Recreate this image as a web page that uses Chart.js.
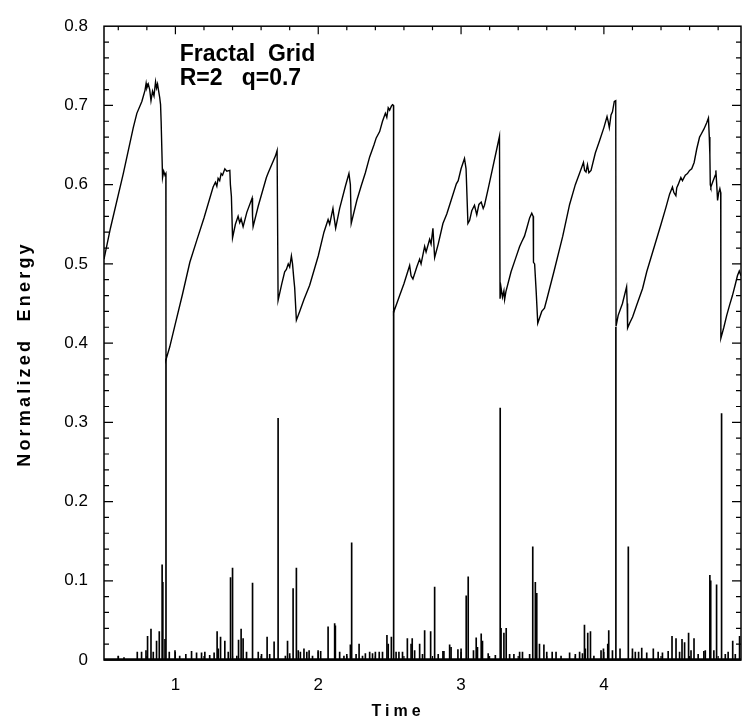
<!DOCTYPE html>
<html lang="en">
<head>
  <meta charset="UTF-8">
  <title>Fractal Grid energy</title>
  <script src="https://cdn.jsdelivr.net/npm/chart.js@4.4.1/dist/chart.umd.min.js"></script>
  <style>
    html, body { margin: 0; padding: 0; background: #fff; }
    #wrap { width: 742px; height: 720px; }
  </style>
</head>
<body>
<div id="wrap"><canvas id="energyChart" width="742" height="720"></canvas></div>
<script>
  // energy curve
  const energyT = [
    0.500, 0.545, 0.635, 0.705, 0.730, 0.765, 0.787, 0.795, 0.800, 0.810, 0.820, 0.829, 0.840, 0.850, 0.861, 0.868, 0.875, 0.880, 0.890, 0.896, 0.900, 0.910, 0.918, 0.927, 0.933,
    0.934, 0.960, 1.000, 1.050, 1.101, 1.150, 1.200, 1.264, 1.280, 1.290, 1.299, 1.310, 1.320, 1.330, 1.346, 1.360, 1.381, 1.385, 1.392, 1.400, 1.420, 1.439, 1.450, 1.460, 1.474, 1.500, 1.537, 1.540, 1.544, 1.580, 1.637, 1.650, 1.700, 1.712,
    1.719, 1.745, 1.765, 1.777, 1.790, 1.800, 1.812, 1.820, 1.829, 1.835, 1.847, 1.870, 1.900, 1.940, 2.000, 2.040, 2.069, 2.080, 2.103, 2.110, 2.122, 2.150, 2.190, 2.215, 2.225, 2.231, 2.270, 2.300, 2.330, 2.360, 2.390, 2.406, 2.430, 2.450, 2.470, 2.480, 2.490, 2.500, 2.512, 2.520, 2.527,
    2.528, 2.550, 2.570, 2.600, 2.640, 2.650, 2.663, 2.690, 2.710, 2.720, 2.745, 2.755, 2.780, 2.790, 2.803, 2.815, 2.840, 2.873, 2.900, 2.930, 2.967, 2.980, 3.000, 3.024, 3.035, 3.048, 3.060, 3.075, 3.094, 3.110, 3.125, 3.141, 3.155, 3.164, 3.190, 3.220, 3.250, 3.269,
    3.273, 3.280, 3.290, 3.300, 3.305, 3.314, 3.350, 3.380, 3.410, 3.425, 3.444, 3.460, 3.480, 3.495, 3.505, 3.507, 3.515, 3.526, 3.537, 3.550, 3.565, 3.584, 3.600, 3.650, 3.712, 3.760, 3.800, 3.829, 3.845, 3.857, 3.865, 3.875, 3.885, 3.895, 3.910, 3.940, 3.969, 4.000, 4.022, 4.030, 4.038, 4.050, 4.060, 4.073, 4.083,
    4.085, 4.100, 4.130, 4.159, 4.163, 4.166, 4.180, 4.201, 4.230, 4.271, 4.300, 4.350, 4.400, 4.434, 4.460, 4.480, 4.490, 4.504, 4.510, 4.520, 4.539, 4.550, 4.570, 4.585, 4.600, 4.615, 4.632, 4.650, 4.670, 4.679, 4.700, 4.720, 4.732, 4.738, 4.742, 4.745, 4.749, 4.765, 4.780, 4.784, 4.790, 4.796, 4.804, 4.812, 4.818,
    4.819, 4.840, 4.860, 4.880, 4.900, 4.920, 4.935, 4.948, 4.960
  ];
  const energyE = [
    0.506, 0.545, 0.614, 0.672, 0.690, 0.705, 0.719, 0.728, 0.722, 0.727, 0.720, 0.706, 0.718, 0.712, 0.730, 0.722, 0.727, 0.721, 0.710, 0.701, 0.680, 0.609, 0.617, 0.612, 0.614,
    0.379, 0.395, 0.425, 0.462, 0.502, 0.530, 0.558, 0.597, 0.603, 0.598, 0.608, 0.605, 0.614, 0.612, 0.620, 0.617, 0.618, 0.600, 0.585, 0.533, 0.550, 0.560, 0.552, 0.557, 0.547, 0.565, 0.583, 0.560, 0.547, 0.573, 0.609, 0.615, 0.636, 0.643,
    0.454, 0.475, 0.490, 0.493, 0.500, 0.496, 0.510, 0.500, 0.481, 0.470, 0.429, 0.440, 0.455, 0.473, 0.510, 0.540, 0.556, 0.550, 0.570, 0.560, 0.545, 0.570, 0.598, 0.614, 0.600, 0.551, 0.580, 0.598, 0.615, 0.635, 0.650, 0.659, 0.667, 0.680, 0.690, 0.685, 0.697, 0.694, 0.699, 0.701, 0.700,
    0.439, 0.450, 0.460, 0.475, 0.498, 0.485, 0.481, 0.496, 0.506, 0.500, 0.522, 0.515, 0.531, 0.525, 0.545, 0.508, 0.525, 0.551, 0.563, 0.580, 0.601, 0.605, 0.620, 0.633, 0.620, 0.551, 0.555, 0.567, 0.574, 0.562, 0.575, 0.578, 0.570, 0.574, 0.595, 0.620, 0.645, 0.661,
    0.456, 0.470, 0.458, 0.466, 0.455, 0.465, 0.490, 0.506, 0.522, 0.528, 0.535, 0.545, 0.558, 0.564, 0.560, 0.502, 0.500, 0.465, 0.425, 0.432, 0.440, 0.444, 0.455, 0.490, 0.535, 0.575, 0.600, 0.614, 0.622, 0.628, 0.618, 0.616, 0.625, 0.615, 0.618, 0.640, 0.655, 0.672, 0.686, 0.680, 0.672, 0.688, 0.692, 0.705, 0.706,
    0.421, 0.435, 0.450, 0.471, 0.450, 0.419, 0.425, 0.433, 0.448, 0.469, 0.490, 0.520, 0.550, 0.571, 0.588, 0.597, 0.590, 0.586, 0.596, 0.600, 0.609, 0.605, 0.612, 0.614, 0.618, 0.620, 0.628, 0.645, 0.660, 0.663, 0.670, 0.678, 0.684, 0.660, 0.638, 0.600, 0.597, 0.605, 0.612, 0.618, 0.600, 0.580, 0.590, 0.595, 0.590,
    0.406, 0.420, 0.435, 0.448, 0.460, 0.474, 0.485, 0.491, 0.485
  ];

  // dissipation bursts (spikes from zero)
  const spikeT = [
    0.600, 0.640, 0.733, 0.763, 0.794, 0.805, 0.829, 0.845, 0.868, 0.887, 0.907, 0.912, 0.927, 0.934, 0.957, 0.997,
    1.030, 1.073, 1.113, 1.148, 1.183, 1.206, 1.240, 1.271, 1.292, 1.300, 1.316, 1.346, 1.370, 1.386, 1.400, 1.430, 1.442, 1.460, 1.474, 1.498, 1.540, 1.580, 1.603, 1.642, 1.660, 1.691, 1.719, 1.770, 1.785, 1.800, 1.824, 1.847, 1.860, 1.875, 1.900, 1.920, 1.936, 1.960, 1.999,
    2.017, 2.069, 2.115, 2.120, 2.150, 2.180, 2.200, 2.225, 2.234, 2.265, 2.286, 2.310, 2.330, 2.360, 2.380, 2.400, 2.427, 2.450, 2.481, 2.490, 2.512, 2.528, 2.545, 2.565, 2.590, 2.624, 2.650, 2.658, 2.675, 2.710, 2.730, 2.745, 2.787, 2.815, 2.840, 2.873, 2.880, 2.920, 2.930, 2.978,
    3.000, 3.036, 3.050, 3.087, 3.106, 3.115, 3.141, 3.150, 3.190, 3.240, 3.274, 3.280, 3.300, 3.316, 3.340, 3.370, 3.410, 3.430, 3.480, 3.502, 3.520, 3.530, 3.549, 3.580, 3.600, 3.638, 3.665, 3.700, 3.760, 3.800, 3.830, 3.850, 3.864, 3.870, 3.887, 3.906, 3.930, 3.980, 3.997,
    4.027, 4.034, 4.060, 4.084, 4.113, 4.171, 4.200, 4.220, 4.243, 4.265, 4.300, 4.346, 4.380, 4.410, 4.450, 4.477, 4.505, 4.530, 4.547, 4.565, 4.593, 4.610, 4.631, 4.660, 4.700, 4.710, 4.742, 4.748, 4.770, 4.789, 4.824, 4.850, 4.870, 4.902, 4.920, 4.950
  ];
  const spikeH = [
    0.005, 0.003, 0.010, 0.010, 0.012, 0.030, 0.039, 0.010, 0.024, 0.036, 0.120, 0.098, 0.026, 0.380, 0.010, 0.012,
    0.005, 0.007, 0.011, 0.009, 0.009, 0.010, 0.006, 0.009, 0.036, 0.014, 0.029, 0.024, 0.010, 0.104, 0.116, 0.005, 0.025, 0.039, 0.027, 0.010, 0.097, 0.010, 0.007, 0.029, 0.007, 0.023, 0.305, 0.005, 0.024, 0.008, 0.090, 0.116, 0.012, 0.010, 0.014, 0.010, 0.012, 0.005, 0.012,
    0.011, 0.042, 0.046, 0.043, 0.010, 0.005, 0.007, 0.019, 0.148, 0.007, 0.020, 0.005, 0.008, 0.010, 0.008, 0.010, 0.010, 0.010, 0.031, 0.020, 0.029, 0.440, 0.010, 0.010, 0.010, 0.027, 0.020, 0.027, 0.012, 0.020, 0.007, 0.037, 0.036, 0.092, 0.007, 0.011, 0.011, 0.019, 0.016, 0.013,
    0.014, 0.081, 0.105, 0.012, 0.028, 0.016, 0.033, 0.024, 0.008, 0.006, 0.318, 0.040, 0.034, 0.040, 0.007, 0.007, 0.010, 0.010, 0.007, 0.143, 0.098, 0.084, 0.020, 0.019, 0.010, 0.010, 0.010, 0.005, 0.009, 0.007, 0.010, 0.008, 0.044, 0.014, 0.034, 0.036, 0.005, 0.012, 0.014,
    0.020, 0.037, 0.012, 0.420, 0.014, 0.143, 0.014, 0.010, 0.010, 0.015, 0.009, 0.014, 0.010, 0.009, 0.011, 0.030, 0.027, 0.010, 0.026, 0.022, 0.034, 0.012, 0.027, 0.007, 0.011, 0.012, 0.107, 0.100, 0.012, 0.095, 0.311, 0.007, 0.010, 0.024, 0.007, 0.030
  ];

  const xTickLabels = [1, 2, 3, 4];
  const yTickLabels = [0, 0.1, 0.2, 0.3, 0.4, 0.5, 0.6, 0.7, 0.8];
  const noteLines = ["Fractal  Grid", "R=2   q=0.7"];

  const FONT = "'Liberation Sans', Arial, Helvetica, sans-serif";

  // frame, inward ticks, axis titles and the note
  const framePlugin = {
    id: "frame",
    afterDraw(chart) {
      const { ctx, chartArea: a, scales: { x, y } } = chart;
      ctx.save();
      ctx.strokeStyle = "#000";
      ctx.lineWidth = 1.5;
      ctx.strokeRect(a.left, a.top, a.right - a.left, a.bottom - a.top);
      // the noisy floor of the bursts reads as a heavier bottom edge
      ctx.lineWidth = 2.5;
      ctx.beginPath();
      ctx.moveTo(a.left, a.bottom - 0.5); ctx.lineTo(a.right, a.bottom - 0.5);
      ctx.stroke();

      ctx.lineWidth = 1.2;
      ctx.beginPath();
      for (let i = 3; i <= 24; i++) {
        const px = x.getPixelForValue(i * 0.2);
        const len = (i % 5 === 0) ? 8 : 4;
        ctx.moveTo(px, a.top); ctx.lineTo(px, a.top + len);
        ctx.moveTo(px, a.bottom); ctx.lineTo(px, a.bottom - len);
      }
      for (let i = 1; i < 40; i++) {
        const py = y.getPixelForValue(i * 0.02);
        const len = (i % 5 === 0) ? 9 : 5;
        ctx.moveTo(a.left, py); ctx.lineTo(a.left + len, py);
        ctx.moveTo(a.right, py); ctx.lineTo(a.right - len, py);
      }
      ctx.stroke();

      ctx.fillStyle = "#000";
      ctx.font = "bold 23px " + FONT;
      ctx.textAlign = "left";
      ctx.textBaseline = "alphabetic";
      ctx.fillText(noteLines[0], x.getPixelForValue(1.03), y.getPixelForValue(0.756));
      ctx.fillText(noteLines[1], x.getPixelForValue(1.03), y.getPixelForValue(0.726));

      ctx.font = "bold 16px " + FONT;
      ctx.letterSpacing = "4px";
      ctx.textAlign = "center";
      ctx.fillText("Time", 398, 716);

      ctx.font = "bold 18px " + FONT;
      ctx.letterSpacing = "3.2px";
      ctx.translate(30, 354);
      ctx.rotate(-Math.PI / 2);
      ctx.fillText("Normalized  Energy", 0, 0);
      ctx.restore();
    }
  };

  new Chart(document.getElementById("energyChart"), {
    type: "line",
    data: {
      datasets: [
        {
          type: "line",
          label: "energy",
          data: energyT.map((t, i) => ({ x: t, y: energyE[i] })),
          borderColor: "#000",
          borderWidth: 1.4,
          pointRadius: 0,
          tension: 0,
          fill: false
        },
        {
          type: "bar",
          label: "bursts",
          data: spikeT.map((t, i) => ({ x: t, y: spikeH[i] })),
          backgroundColor: "#000",
          borderWidth: 0,
          barThickness: 1
        }
      ]
    },
    options: {
      responsive: false,
      animation: false,
      events: [],
      layout: { padding: { left: 0, right: 1, top: 17, bottom: 0 } },
      plugins: { legend: { display: false }, tooltip: { enabled: false } },
      scales: {
        x: {
          type: "linear",
          min: 0.5,
          max: 4.96,
          offset: false,
          grid: { display: false, drawTicks: false },
          border: { display: false },
          afterBuildTicks: s => { s.ticks = xTickLabels.map(v => ({ value: v })); },
          afterFit: s => { s.height = 60; },
          ticks: {
            padding: 15,
            color: "#000",
            font: { family: FONT, size: 17 },
            callback: v => String(v)
          }
        },
        y: {
          type: "linear",
          min: 0,
          max: 0.8,
          grid: { display: false, drawTicks: false },
          border: { display: false },
          afterBuildTicks: s => { s.ticks = yTickLabels.map(v => ({ value: v })); },
          afterFit: s => { s.width = 104; },
          ticks: {
            padding: 16,
            color: "#000",
            font: { family: FONT, size: 17 },
            callback: v => String(Math.round(v * 10) / 10)
          }
        }
      }
    },
    plugins: [framePlugin]
  });
</script>
</body>
</html>
